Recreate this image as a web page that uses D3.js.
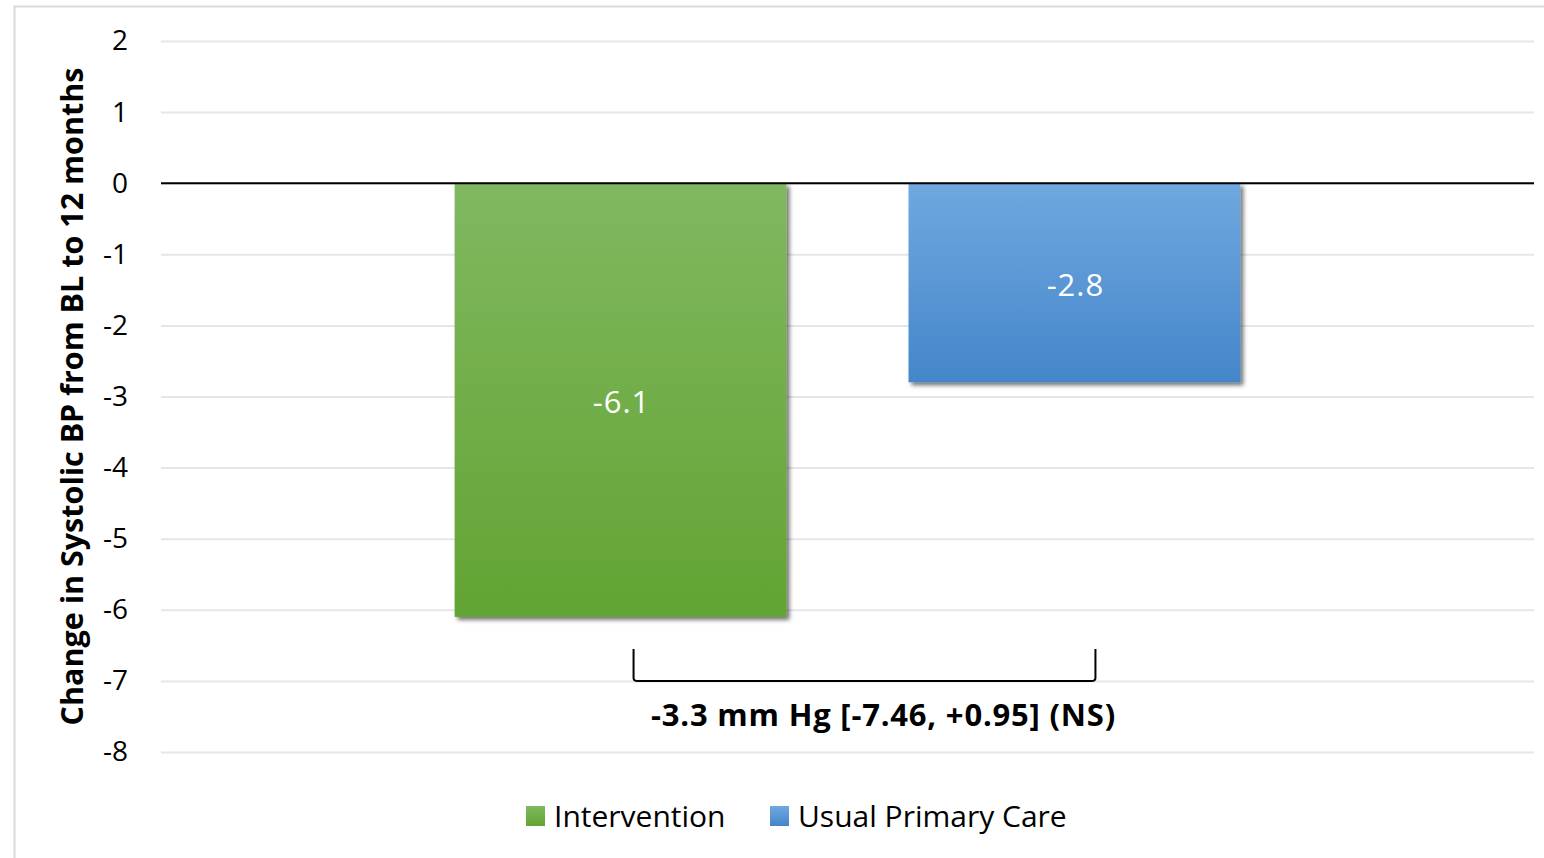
<!DOCTYPE html>
<html>
<head>
<meta charset="utf-8">
<script src="https://cdn.jsdelivr.net/npm/d3@7"></script>
<style>
  html, body { margin: 0; padding: 0; background: #fff; }
  svg { display: block; font-family: "Open Sans", "Noto Sans", sans-serif; }
</style>
</head>
<body>
<svg id="chart" width="1544" height="858"></svg>
<script>
// Change in systolic blood pressure, baseline to 12 months
const series = ["Intervention", "Usual Primary Care"];
const values = [-6.1, -2.8];
const yTicks = [2, 1, 0, -1, -2, -3, -4, -5, -6, -7, -8];
const yTitle = "Change in Systolic BP from BL to 12 months";
const diffLabel = "-3.3 mm Hg [-7.46, +0.95] (NS)";
const bracketRange = [-6.55, -7];

const gradients = [
  { id: "gGreen", top: "#80b860", bottom: "#62a433" },
  { id: "gBlue", top: "#70a8df", bottom: "#4486ca" }
];

const svg = d3.select("#chart");
const plot = { left: 161, right: 1534 };

const y = d3.scaleLinear().domain([-8, 2]).range([752, 41]);
const x = d3.scaleBand().domain(series).range([plot.left, plot.right])
  .paddingInner(0.269).paddingOuter(0.647);

const defs = svg.append("defs");
gradients.forEach(g => {
  const lg = defs.append("linearGradient").attr("id", g.id)
    .attr("x1", 0).attr("y1", 0).attr("x2", 0).attr("y2", 1);
  lg.append("stop").attr("offset", "0%").attr("stop-color", g.top);
  lg.append("stop").attr("offset", "100%").attr("stop-color", g.bottom);
});
const f = defs.append("filter").attr("id", "shadow")
  .attr("x", "-10%").attr("y", "-10%").attr("width", "130%").attr("height", "130%");
f.append("feDropShadow").attr("dx", 3).attr("dy", 3).attr("stdDeviation", 2)
  .attr("flood-color", "#000").attr("flood-opacity", 0.55);

// chart frame
svg.append("rect").attr("x", 14.5).attr("y", 6.5).attr("width", 1560).attr("height", 880)
  .attr("fill", "none").attr("stroke", "#d9d9d9").attr("stroke-width", 2);

// gridlines and tick labels (plain hyphen for negatives)
const yAxis = d3.axisLeft(y).tickValues(yTicks).tickSize(-(plot.right - plot.left)).tickPadding(33)
  .tickFormat(d => String(d));
const ga = svg.append("g").attr("transform", `translate(${plot.left},0)`).call(yAxis);
ga.select(".domain").remove();
ga.selectAll(".tick line").attr("stroke", "#e3e6ea").attr("stroke-width", 2);
ga.selectAll(".tick text").attr("font-size", 28).attr("fill", "#000")
  .attr("font-family", "'Open Sans', 'Noto Sans', sans-serif");

// bars
const colorIds = ["gGreen", "gBlue"];
svg.append("g").selectAll("rect").data(series).join("rect")
  .attr("x", d => x(d))
  .attr("y", y(0))
  .attr("width", x.bandwidth())
  .attr("height", (d, i) => y(values[i]) - y(0))
  .attr("fill", (d, i) => `url(#${colorIds[i]})`)
  .attr("filter", "url(#shadow)");

// zero line
svg.append("line").attr("x1", plot.left).attr("x2", plot.right)
  .attr("y1", y(0)).attr("y2", y(0)).attr("stroke", "#000").attr("stroke-width", 2);

// value labels
svg.append("g").selectAll("text").data(series).join("text")
  .attr("x", d => x(d) + x.bandwidth() / 2 + 1)
  .attr("y", (d, i) => (y(0) + y(values[i])) / 2 + 2)
  .attr("dy", "0.35em")
  .attr("text-anchor", "middle")
  .attr("font-size", 31).attr("letter-spacing", 1).attr("fill", "#fff")
  .text((d, i) => values[i].toFixed(1));

// difference bracket between the two groups
const bx0 = x(series[0]) + x.bandwidth() / 2 + 13;
const bx1 = x(series[1]) + x.bandwidth() / 2 + 21;
const by0 = y(bracketRange[0]), by1 = y(bracketRange[1]);
svg.append("path")
  .attr("d", `M${bx0},${by0} L${bx0},${by1 - 3} Q${bx0},${by1} ${bx0 + 4},${by1} L${bx1 - 4},${by1} Q${bx1},${by1} ${bx1},${by1 - 3} L${bx1},${by0}`)
  .attr("fill", "none").attr("stroke", "#000").attr("stroke-width", 2);
svg.append("text")
  .attr("x", (bx0 + bx1) / 2 + 19).attr("y", by1 + 45)
  .attr("text-anchor", "middle").attr("font-size", 31).attr("letter-spacing", 0.8)
  .attr("font-weight", "bold")
  .text(diffLabel);

// y axis title
svg.append("text")
  .attr("transform", `translate(83,${(y(2) + y(-8)) / 2}) rotate(-90)`)
  .attr("text-anchor", "middle").attr("font-size", 30.5).attr("font-weight", "bold")
  .text(yTitle);

// legend
const legendItems = [
  { x: 526, label: series[0], id: colorIds[0] },
  { x: 770, label: series[1], id: colorIds[1] }
];
const lg = svg.append("g").selectAll("g").data(legendItems).join("g")
  .attr("transform", d => `translate(${d.x},806)`);
lg.append("rect").attr("width", 19).attr("height", 20).attr("fill", d => `url(#${d.id})`);
lg.append("text").attr("x", 28).attr("y", 10).attr("dy", "0.35em")
  .attr("font-size", 30).text(d => d.label);
</script>
</body>
</html>
